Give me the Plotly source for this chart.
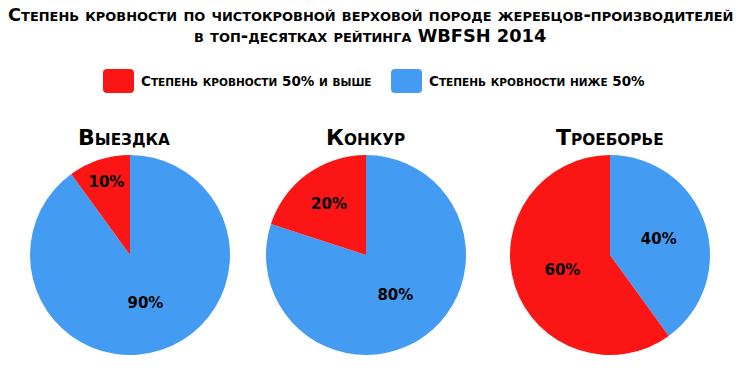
import plotly.graph_objects as go

# ---- data ----
disciplines = ["Выездка", "Конкур", "Троеборье"]
categories = ["Степень кровности 50% и выше", "Степень кровности ниже 50%"]
share_50_plus = [10, 20, 60]
share_below_50 = [90, 80, 40]
colors = ["#FB1515", "#449CF2"]
title_lines = ["Степень кровности по чистокровной верховой породе жеребцов-производителей",
               "в топ-десятках рейтинга WBFSH 2014"]

W, H = 740, 377
FONT = "DejaVu Sans"


def smallcaps(text, big, small):
    runs = []
    for ch in text:
        if ch.islower():
            c, s = ch.upper(), small
        else:
            c, s = ch, big
        if runs and runs[-1][1] == s:
            runs[-1][0] += c
        else:
            runs.append([c, s])
    return "".join(f'<span style="font-size:{s}px">{c}</span>' for c, s in runs)


def px(x):
    return x / W


def py(y):
    return 1 - y / H


fig = go.Figure()

centers = [130, 366, 610]
R = 100
cy = 255
for i, name in enumerate(disciplines):
    cx = centers[i]
    # blue slice first (clockwise from 12 o'clock) so that the red slice ends at 12 o'clock on the left
    fig.add_trace(go.Pie(
        labels=[categories[1], categories[0]],
        values=[share_below_50[i], share_50_plus[i]],
        marker=dict(colors=[colors[1], colors[0]], line=dict(width=0)),
        sort=False,
        direction="clockwise",
        rotation=0,
        texttemplate="%{value}%",
        textposition="inside",
        insidetextorientation="horizontal",
        textfont=dict(family=FONT, size=15, color="black", weight="bold"),
        domain=dict(x=[px(cx - R), px(cx + R)], y=[py(cy + R), py(cy - R)]),
        showlegend=False,
        hoverinfo="label+percent",
        name=name,
    ))

annotations = []
# main title
annotations.append(dict(x=0.5, y=py(14.5), xref="paper", yref="paper", xanchor="center", yanchor="middle",
                        text=smallcaps(title_lines[0], 17.8, 12.95), showarrow=False,
                        font=dict(family=FONT, size=17.8, color="black", weight="bold")))
annotations.append(dict(x=0.5, y=py(36), xref="paper", yref="paper", xanchor="center", yanchor="middle",
                        text=smallcaps(title_lines[1], 17.8, 12.95), showarrow=False,
                        font=dict(family=FONT, size=17.8, color="black", weight="bold")))

# pie titles
title_x = [124, 365, 610]
for i, name in enumerate(disciplines):
    annotations.append(dict(x=px(title_x[i]), y=py(137), xref="paper", yref="paper",
                            xanchor="center", yanchor="middle",
                            text=smallcaps(name, 22, 15.3), showarrow=False,
                            font=dict(family=FONT, size=22, color="black", weight="bold")))

# custom legend
shapes = []
sw_x = [103, 391]
txt_x = [139, 427]
for i, cat in enumerate(categories):
    x0, x1, y0, y1, r = sw_x[i], sw_x[i] + 31, 69, 93, 4
    path = (f"M {px(x0 + r)} {py(y0)} L {px(x1 - r)} {py(y0)} Q {px(x1)} {py(y0)} {px(x1)} {py(y0 + r)} "
            f"L {px(x1)} {py(y1 - r)} Q {px(x1)} {py(y1)} {px(x1 - r)} {py(y1)} "
            f"L {px(x0 + r)} {py(y1)} Q {px(x0)} {py(y1)} {px(x0)} {py(y1 - r)} "
            f"L {px(x0)} {py(y0 + r)} Q {px(x0)} {py(y0)} {px(x0 + r)} {py(y0)} Z")
    shapes.append(dict(type="path", xref="paper", yref="paper", path=path,
                       fillcolor=colors[i], line=dict(width=0)))
    annotations.append(dict(x=px(txt_x[i]), y=py(81), xref="paper", yref="paper",
                            xanchor="left", yanchor="middle",
                            text=smallcaps(cat, 13.5, 10.5), showarrow=False,
                            font=dict(family=FONT, size=13.5, color="black", weight="bold")))

fig.update_layout(
    width=W, height=H,
    margin=dict(l=0, r=0, t=0, b=0),
    paper_bgcolor="white", plot_bgcolor="white",
    annotations=annotations, shapes=shapes,
)

fig.write_html("out.html", config={"displayModeBar": False},
               post_script="document.body.style.margin='0px';")
